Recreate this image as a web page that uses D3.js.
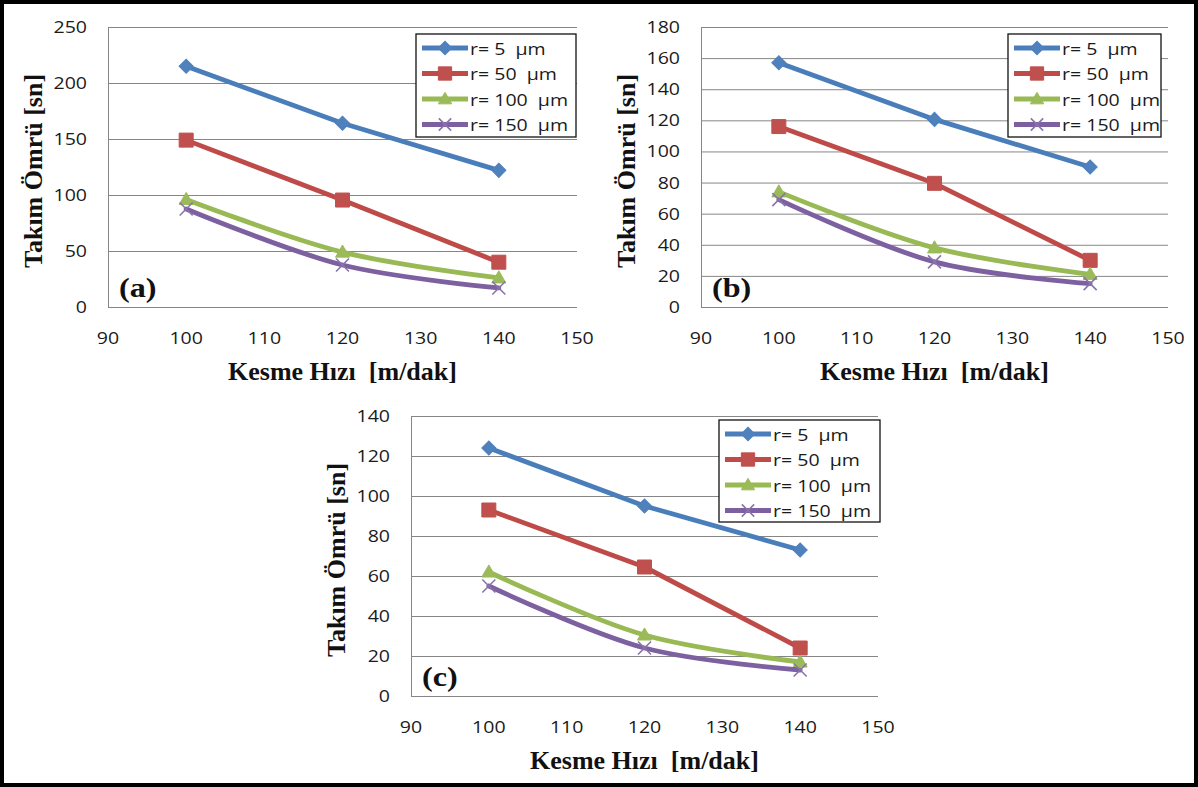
<!DOCTYPE html>
<html><head><meta charset="utf-8">
<script src="https://cdn.jsdelivr.net/npm/d3@7"></script>
<style>body{margin:0;background:#fff}svg{display:block}text{white-space:pre}</style>
</head><body>
<svg id="chart" width="1198" height="787"></svg>
<script>
// ---------- data ----------
const speeds = [100, 120, 140];
const xTicks = [90, 100, 110, 120, 130, 140, 150];
const seriesLabels = ["r= 5  µm", "r= 50  µm", "r= 100  µm", "r= 150  µm"];

const lifeA_r5   = [215, 164, 122];
const lifeA_r50  = [149, 95.5, 40];
const lifeA_r100 = [96, 49, 26];
const lifeA_r150 = [87.5, 37.5, 17];

const lifeB_r5   = [157, 120.6, 90];
const lifeB_r50  = [116, 79.5, 30];
const lifeB_r100 = [74, 38, 21];
const lifeB_r150 = [69, 29, 15];

const lifeC_r5   = [124, 95, 73];
const lifeC_r50  = [93, 64.5, 24];
const lifeC_r100 = [62, 30.5, 17];
const lifeC_r150 = [55, 24, 13];

const yTicksA = [0, 50, 100, 150, 200, 250];
const yTicksB = [0, 20, 40, 60, 80, 100, 120, 140, 160, 180];
const yTicksC = [0, 20, 40, 60, 80, 100, 120, 140];

const xTitle = "Kesme Hızı  [m/dak]";
const yTitle = "Takım Ömrü [sn]";

// ---------- layout / style ----------
const panels = [
  {tag: "(a)", values: [lifeA_r5, lifeA_r50, lifeA_r100, lifeA_r150], yTicks: yTicksA,
   box: {left: 108, right: 577, top: 27, bottom: 307}, legend: {x: 416, y: 34, w: 160, h: 103}},
  {tag: "(b)", values: [lifeB_r5, lifeB_r50, lifeB_r100, lifeB_r150], yTicks: yTicksB,
   box: {left: 701, right: 1168, top: 27, bottom: 307}, legend: {x: 1008, y: 34, w: 153, h: 103}},
  {tag: "(c)", values: [lifeC_r5, lifeC_r50, lifeC_r100, lifeC_r150], yTicks: yTicksC,
   box: {left: 411, right: 878, top: 416, bottom: 696}, legend: {x: 719, y: 420, w: 161, h: 102}}
];
const lineColors   = ["#4A7EBB", "#BE4B48", "#98B954", "#7D60A0"];
const markerColors = ["#4F81BD", "#C0504D", "#9BBB59", "#8A73AA"];
const markerKinds  = ["diamond", "square", "triangle", "x"];
const curves = [d3.curveLinear, d3.curveLinear, d3.curveCatmullRom, d3.curveCatmullRom];
const SX = 1.15;
const sansFont = "'Open Sans', 'DejaVu Sans', sans-serif";
const serifFont = "'Liberation Serif', 'Times New Roman', serif";

const svg = d3.select("#chart");
svg.append("rect").attr("x", 0).attr("y", 0).attr("width", 1198).attr("height", 787).attr("fill", "#fff");

function drawMarker(g, kind, cx, cy, fill, scaleF) {
  const s = scaleF || 1;
  if (kind === "diamond") {
    g.append("path").attr("d", d3.symbol().type(d3.symbolSquare).size(100 * s * s)())
      .attr("transform", `translate(${cx},${cy}) rotate(45)`)
      .attr("fill", fill).attr("stroke", fill).attr("stroke-width", 1);
  } else if (kind === "square") {
    g.append("path").attr("d", d3.symbol().type(d3.symbolSquare).size(196 * s * s)())
      .attr("transform", `translate(${cx},${cy})`)
      .attr("fill", fill).attr("stroke", fill).attr("stroke-width", 1);
  } else if (kind === "triangle") {
    g.append("path").attr("d", d3.symbol().type(d3.symbolTriangle).size(85 * s * s)())
      .attr("transform", `translate(${cx},${cy + 1})`)
      .attr("fill", fill).attr("stroke", fill).attr("stroke-width", 1);
  } else {
    const r = 6.5 * s;
    g.append("path").attr("d", `M${-r},${-r}L${r},${r}M${-r},${r}L${r},${-r}`)
      .attr("transform", `translate(${cx},${cy})`)
      .attr("fill", "none").attr("stroke", fill).attr("stroke-width", 1.6);
  }
}

panels.forEach(p => {
  const {left, right, top, bottom} = p.box;
  const x = d3.scaleLinear().domain([90, 150]).range([left, right]);
  const y = d3.scaleLinear().domain([0, d3.max(p.yTicks)]).range([bottom, top]);
  const g = svg.append("g");

  // y axis with gridlines
  const ya = g.append("g").attr("transform", `translate(${left},0)`)
    .call(d3.axisLeft(y).tickValues(p.yTicks).tickSize(-(right - left)).tickSizeOuter(0).tickPadding(21));
  ya.select(".domain").attr("stroke", "#868686").attr("stroke-width", 1);
  ya.selectAll(".tick line").attr("stroke", "#868686").attr("stroke-width", 1);
  ya.selectAll(".tick text")
    .attr("font-family", sansFont).attr("font-size", 17).attr("fill", "#1a1a1a")
    .attr("x", -21 / SX).attr("transform", `scale(${SX},1)`);

  // x axis labels
  const xa = g.append("g").attr("transform", `translate(0,${bottom})`)
    .call(d3.axisBottom(x).tickValues(xTicks).tickSize(0).tickPadding(25));
  xa.select(".domain").remove();
  xa.selectAll(".tick text")
    .attr("font-family", sansFont).attr("font-size", 17).attr("fill", "#1a1a1a")
    .attr("transform", `scale(${SX},1)`);
  xa.selectAll(".tick").each(function(d) {
    d3.select(this).attr("transform", `translate(${x(d)},0)`);
  });

  // series
  p.values.forEach((vals, i) => {
    const pts = speeds.map((s, k) => [s, vals[k]]);
    g.append("path").datum(pts)
      .attr("d", d3.line().x(d => x(d[0])).y(d => y(d[1])).curve(curves[i]))
      .attr("fill", "none").attr("stroke", lineColors[i]).attr("stroke-width", 4.8)
      .attr("stroke-linejoin", "round").attr("stroke-linecap", "round");
    pts.forEach(d => drawMarker(g, markerKinds[i], x(d[0]), y(d[1]), markerColors[i]));
  });

  // panel tag
  g.append("text").text(p.tag)
    .attr("transform", `translate(${left + 11},${bottom - 10}) scale(${SX},1)`)
    .attr("font-family", serifFont).attr("font-weight", "bold").attr("font-size", 28).attr("fill", "#111");

  // axis titles
  g.append("text").text(xTitle)
    .attr("x", (left + right) / 2).attr("y", bottom + 73).attr("text-anchor", "middle")
    .attr("font-family", serifFont).attr("font-weight", "bold").attr("font-size", 26).attr("fill", "#111");
  g.append("text").text(yTitle)
    .attr("transform", `translate(${left - 75},${(top + bottom) / 2 + 4}) rotate(-90)`)
    .attr("text-anchor", "middle").attr("dominant-baseline", "central")
    .attr("font-family", serifFont).attr("font-weight", "bold").attr("font-size", 26).attr("fill", "#111");

  // legend
  const L = p.legend;
  const lg = g.append("g");
  lg.append("rect").attr("x", L.x).attr("y", L.y).attr("width", L.w).attr("height", L.h)
    .attr("fill", "#fff").attr("stroke", "#111").attr("stroke-width", 1.3);
  seriesLabels.forEach((lab, i) => {
    const cy = L.y + 14 + i * 25.5;
    lg.append("line").attr("x1", L.x + 6).attr("x2", L.x + 52).attr("y1", cy).attr("y2", cy)
      .attr("stroke", lineColors[i]).attr("stroke-width", 4.8);
    drawMarker(lg, markerKinds[i], L.x + 29, cy, markerColors[i], 0.95);
    lg.append("text").text(lab)
      .attr("transform", `translate(${L.x + 54},${cy}) scale(${SX},1)`)
      .attr("dominant-baseline", "central")
      .attr("font-family", sansFont).attr("font-size", 17).attr("fill", "#1a1a1a");
  });
});

// outer frame
svg.append("rect").attr("x", 2).attr("y", 2).attr("width", 1194).attr("height", 783)
  .attr("fill", "none").attr("stroke", "#000").attr("stroke-width", 4);
</script>
</body></html>
